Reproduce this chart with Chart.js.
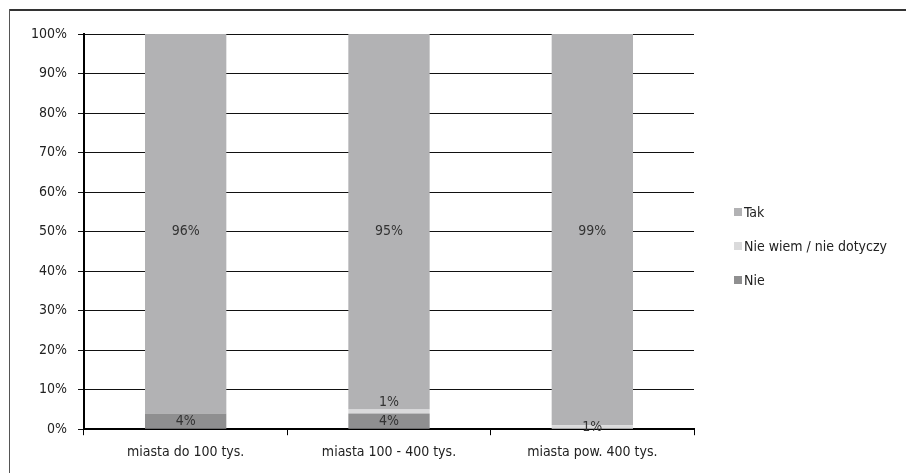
<!DOCTYPE html>
<html>
<head>
<meta charset="utf-8">
<script src="https://cdn.jsdelivr.net/npm/chart.js@4/dist/chart.umd.min.js"></script>
<style>
  html, body { margin: 0; padding: 0; background: #fff; overflow: hidden; }
  #wrap { position: relative; width: 906px; height: 473px; overflow: hidden; }
  #frameTop { position: absolute; left: 9px; top: 9px; width: 897px; height: 2px; background: #333; }
  #frameLeft { position: absolute; left: 9px; top: 9px; width: 1px; height: 464px; background: #555; }
  #surveyChart { position: absolute; left: 0; top: 0; }
  #legend { position: absolute; left: 734px; top: 203px; font-family: "Liberation Sans Narrow", "DejaVu Sans Condensed", Roboto, sans-serif;
            font-size: 14px; color: #222; }
  #legend div { height: 34px; line-height: 18px; }
  #legend span.box { display: inline-block; width: 8px; height: 8px; margin-right: 2px; vertical-align: 1px; }
</style>
</head>
<body>
<div id="wrap">
  <div id="frameTop"></div>
  <div id="frameLeft"></div>
  <canvas id="surveyChart" width="906" height="473"></canvas>
  <div id="legend"></div>
</div>
<script>
const categories = ['miasta do 100 tys.', 'miasta 100 - 400 tys.', 'miasta pow. 400 tys.'];
const nieValues = [4, 4, 0];
const nieWiemValues = [0, 1, 1];
const takValues = [96, 95, 99];
const yTicks = [0, 10, 20, 30, 40, 50, 60, 70, 80, 90, 100];

const fontFamily = '"Liberation Sans Narrow", "DejaVu Sans Condensed", Roboto, sans-serif';
Chart.defaults.font.family = fontFamily;
Chart.defaults.font.size = 14;
Chart.defaults.color = '#222';

// value labels: halfway between the axis base and the segment top,
// nudged up when they would collide with the label below
const segmentLabels = {
    id: 'segmentLabels',
    afterDatasetsDraw(chart) {
        const ctx = chart.ctx;
        const yScale = chart.scales.y;
        const lastY = {};
        ctx.save();
        ctx.font = '14px ' + fontFamily;
        ctx.fillStyle = '#333';
        ctx.textAlign = 'center';
        ctx.textBaseline = 'middle';
        chart.data.datasets.forEach((ds, di) => {
            const meta = chart.getDatasetMeta(di);
            meta.data.forEach((bar, i) => {
                const v = ds.data[i];
                if (!v) return;
                let y = (bar.y + yScale.getPixelForValue(0)) / 2;
                if (lastY[i] !== undefined && lastY[i] - y < 19) y = lastY[i] - 19;
                lastY[i] = y;
                ctx.fillText(v + '%', bar.x, y);
            });
        });
        ctx.restore();
    }
};

const ctx = document.getElementById('surveyChart').getContext('2d');
const surveyChart = new Chart(ctx, {
    type: 'bar',
    data: {
        labels: categories,
        datasets: [
            { label: 'Nie', data: nieValues, backgroundColor: '#8f8f90' },
            { label: 'Nie wiem / nie dotyczy', data: nieWiemValues, backgroundColor: '#dadadb' },
            { label: 'Tak', data: takValues, backgroundColor: '#b2b2b4' }
        ]
    },
    options: {
        responsive: false,
        animation: false,
        layout: { padding: { top: 34, right: 212, bottom: 3, left: 0 } },
        datasets: { bar: { categoryPercentage: 1, barPercentage: 0.4 } },
        plugins: { legend: { display: false }, tooltip: { enabled: false } },
        scales: {
            x: {
                stacked: true,
                grid: { offset: true, drawOnChartArea: false, tickLength: 6, color: '#000' },
                border: { color: '#000', width: 2 },
                ticks: { padding: 9, color: '#222' }
            },
            y: {
                stacked: true,
                min: 0,
                max: 100,
                afterFit(scale) { scale.width = 84; },
                afterBuildTicks(scale) { scale.ticks = yTicks.map(v => ({ value: v })); },
                grid: { color: '#111', lineWidth: 1, tickLength: 6 },
                border: { color: '#000', width: 2 },
                ticks: { padding: 11, color: '#222', callback: v => v + '%' }
            }
        }
    },
    plugins: [segmentLabels]
});

// legend, top to bottom as in the stack
const legendEl = document.getElementById('legend');
surveyChart.data.datasets.slice().reverse().forEach(ds => {
    const row = document.createElement('div');
    row.innerHTML = '<span class="box" style="background:' + ds.backgroundColor + '"></span>' + ds.label;
    legendEl.appendChild(row);
});
</script>
</body>
</html>
